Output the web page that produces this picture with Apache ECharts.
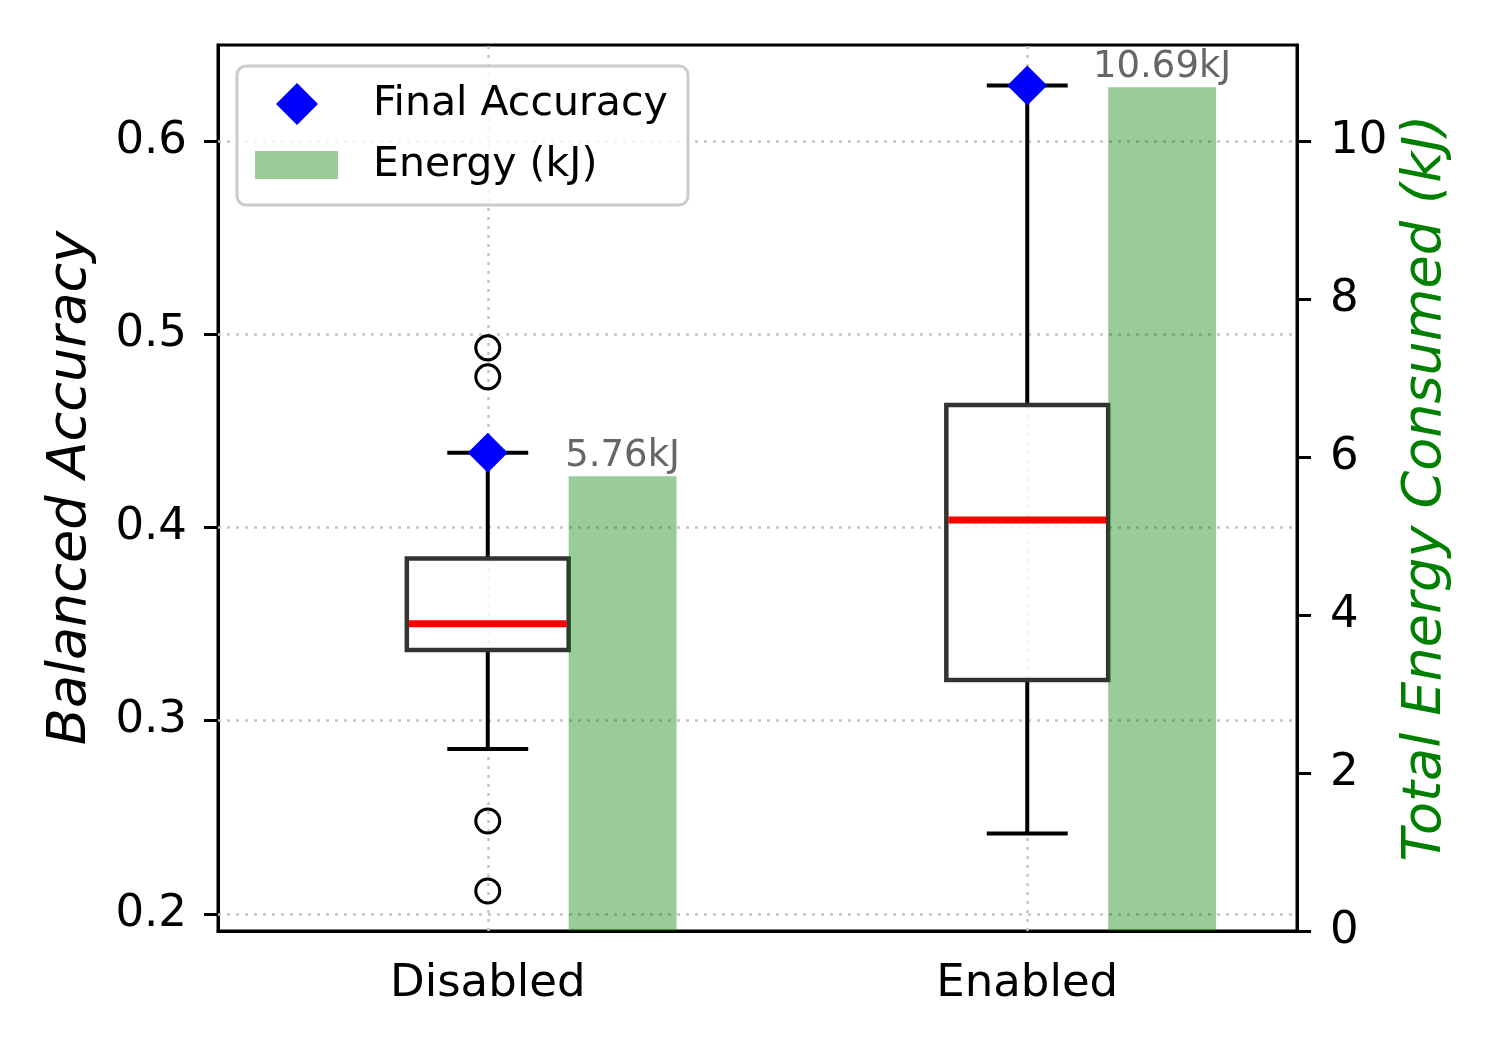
<!DOCTYPE html>
<html>
<head>
<meta charset="utf-8">
<script src="https://cdn.jsdelivr.net/npm/echarts@6/dist/echarts.min.js"></script>
<style>html,body{margin:0;padding:0;background:#fff}#chart{width:1500px;height:1050px}</style>
</head>
<body>
<div id="chart"></div>
<script>
// ---------- data ----------
const categories = ['Disabled', 'Enabled'];
// [lowerWhisker, Q1, median, Q3, upperWhisker]
const boxStats = [
  [0.2854, 0.3366, 0.3502, 0.3839, 0.4387],
  [0.2416, 0.3211, 0.4039, 0.4634, 0.6286]
];
const outliers = [[0, 0.4929], [0, 0.4779], [0, 0.2481], [0, 0.2119]];
const finalAccuracy = [0.4387, 0.6286];
const energyKJ = [5.76, 10.69];
const accTicks = [0.2, 0.3, 0.4, 0.5, 0.6];
const energyTicks = [0, 2, 4, 6, 8, 10];

// ---------- styling constants ----------
const FONT = '"DejaVu Sans", "Noto Sans", sans-serif';
const BOX_WIDTH = 0.3, CAP_WIDTH = 0.15, BAR_OFFSET = 0.25, BAR_WIDTH = 0.2;

function renderBox(params, api) {
  const i = api.value(0);
  const p = [1, 2, 3, 4, 5].map(d => api.coord([i, api.value(d)]));
  const band = api.size([1, 0])[0];
  const cx = p[0][0];
  const bw = band * BOX_WIDTH, cw = band * CAP_WIDTH;
  const blk = { stroke: '#000', lineWidth: 4 };
  return {
    type: 'group',
    children: [
      { type: 'line', shape: { x1: cx, y1: p[1][1], x2: cx, y2: p[0][1] }, style: blk },
      { type: 'line', shape: { x1: cx, y1: p[3][1], x2: cx, y2: p[4][1] }, style: blk },
      { type: 'line', shape: { x1: cx - cw / 2, y1: p[0][1], x2: cx + cw / 2, y2: p[0][1] }, style: blk },
      { type: 'line', shape: { x1: cx - cw / 2, y1: p[4][1], x2: cx + cw / 2, y2: p[4][1] }, style: blk },
      { type: 'rect', shape: { x: cx - bw / 2, y: p[3][1], width: bw, height: p[1][1] - p[3][1] },
        style: { fill: 'rgba(255,255,255,0.8)', stroke: '#333', lineWidth: 4.5 } },
      { type: 'line', shape: { x1: cx - bw / 2 + 2, y1: p[2][1], x2: cx + bw / 2 - 2, y2: p[2][1] },
        style: { stroke: '#ff0000', lineWidth: 7 } }
    ]
  };
}

function renderEnergy(params, api) {
  const i = api.value(0), v = api.value(1);
  const base = api.coord([i, 0]), top = api.coord([i, v]);
  const band = api.size([1, 0])[0];
  const cx = base[0] + band * BAR_OFFSET, w = band * BAR_WIDTH;
  return {
    type: 'group',
    children: [
      { type: 'rect', shape: { x: cx - w / 2, y: top[1], width: w, height: base[1] - top[1] },
        style: { fill: 'rgba(0,128,0,0.4)' } },
      { type: 'text', style: { x: cx, y: top[1] - 1, text: v.toFixed(2) + 'kJ', align: 'center',
        verticalAlign: 'bottom', fill: '#666666', font: '37px ' + FONT } }
    ]
  };
}

const isTick = (arr, v) => arr.some(t => Math.abs(t - v) < 1e-6);

const chart = echarts.init(document.getElementById('chart'));
chart.setOption({
  animation: false,
  backgroundColor: '#fff',
  grid: { left: 218, right: 203, top: 45, bottom: 119, show: true, borderColor: '#000', borderWidth: 3, backgroundColor: 'transparent' },
  xAxis: {
    type: 'category', data: categories, boundaryGap: true,
    axisLine: { lineStyle: { color: '#000', width: 3 } },
    axisTick: { alignWithLabel: true, length: 14, lineStyle: { color: '#000', width: 3 } },
    axisLabel: { color: '#000', fontSize: 45, fontFamily: FONT, margin: 31 },
    splitLine: { show: false }
  },
  yAxis: [
    {
      type: 'value', min: 0.1912, max: 0.6496, position: 'left',
      name: 'Balanced Accuracy', nameLocation: 'middle', nameGap: 120, nameRotate: 90,
      nameTextStyle: { fontSize: 54, fontStyle: 'italic', fontFamily: FONT, color: '#000' },
      axisLine: { show: true, lineStyle: { color: '#000', width: 3 } },
      axisTick: { show: true, length: 14, customValues: accTicks, lineStyle: { color: '#000', width: 3 } },
      axisLabel: { color: '#000', fontSize: 45, fontFamily: FONT, margin: 31, customValues: accTicks,
        formatter: v => isTick(accTicks, v) ? v.toFixed(1) : '' },
      splitLine: { show: false }
    },
    {
      type: 'value', min: 0, max: 11.2245, position: 'right',
      name: 'Total Energy Consumed (kJ)', nameLocation: 'middle', nameGap: 102, nameRotate: 90,
      nameTextStyle: { fontSize: 54, fontStyle: 'italic', fontFamily: FONT, color: '#008000' },
      axisLine: { show: true, lineStyle: { color: '#000', width: 3 } },
      axisTick: { show: true, length: 14, customValues: energyTicks, lineStyle: { color: '#000', width: 3 } },
      axisLabel: { color: '#000', fontSize: 45, fontFamily: FONT, margin: 33, customValues: energyTicks,
        formatter: v => isTick(energyTicks, v) ? String(v) : '' },
      splitLine: { show: false }
    }
  ],
  legend: [
    {
      data: ['Final Accuracy'], left: 276, top: 80, padding: 0, itemWidth: 42, itemHeight: 42,
      icon: 'diamond', selectedMode: false, z: 20,
      itemStyle: { opacity: 1 },
      textStyle: { fontSize: 41, fontFamily: FONT, color: '#000', lineHeight: 48, padding: [0, 0, 0, 50] }
    },
    {
      data: ['Energy (kJ)'], left: 255, top: 141, padding: 0, itemWidth: 83, itemHeight: 28,
      icon: 'rect', selectedMode: false, z: 20,
      textStyle: { fontSize: 41, fontFamily: FONT, color: '#000', lineHeight: 48, padding: [0, 0, 0, 30] }
    }
  ],
  graphic: [
    { type: 'rect', z: 15, silent: true, shape: { x: 237, y: 66, width: 451, height: 139, r: 9 },
      style: { fill: 'rgba(255,255,255,0.8)', stroke: '#cccccc', lineWidth: 3 } }
  ],
  series: [
    {
      name: 'grid', type: 'line', data: [], z: 1, silent: true,
      markLine: {
        z: 1, silent: true, symbol: ['none', 'none'], label: { show: false },
        lineStyle: { color: '#c4c4c4', width: 2.5, type: [3, 6] },
        emphasis: { disabled: true },
        data: accTicks.map(v => ({ yAxis: v })).concat(categories.map(c => ({ xAxis: c })))
      }
    },
    {
      name: 'boxes', type: 'custom', z: 3, silent: true,
      renderItem: renderBox,
      encode: { x: 0, y: [1, 2, 3, 4, 5] },
      data: boxStats.map((s, i) => [i].concat(s))
    },
    {
      name: 'outliers', type: 'scatter', z: 4, silent: true,
      symbol: 'circle', symbolSize: 24,
      itemStyle: { color: 'rgba(0,0,0,0)', borderColor: '#000', borderWidth: 3, opacity: 1 },
      data: outliers
    },
    {
      name: 'Final Accuracy', type: 'scatter', z: 6, silent: true,
      symbol: 'diamond', symbolSize: 40,
      itemStyle: { color: '#0000ff', opacity: 1 },
      data: finalAccuracy.map((v, i) => [i, v])
    },
    {
      name: 'Energy (kJ)', type: 'custom', yAxisIndex: 1, z: 5, silent: true,
      itemStyle: { color: 'rgba(0,128,0,0.4)' },
      renderItem: renderEnergy,
      encode: { x: 0, y: 1 },
      data: energyKJ.map((v, i) => [i, v])
    }
  ]
});
</script>
</body>
</html>
